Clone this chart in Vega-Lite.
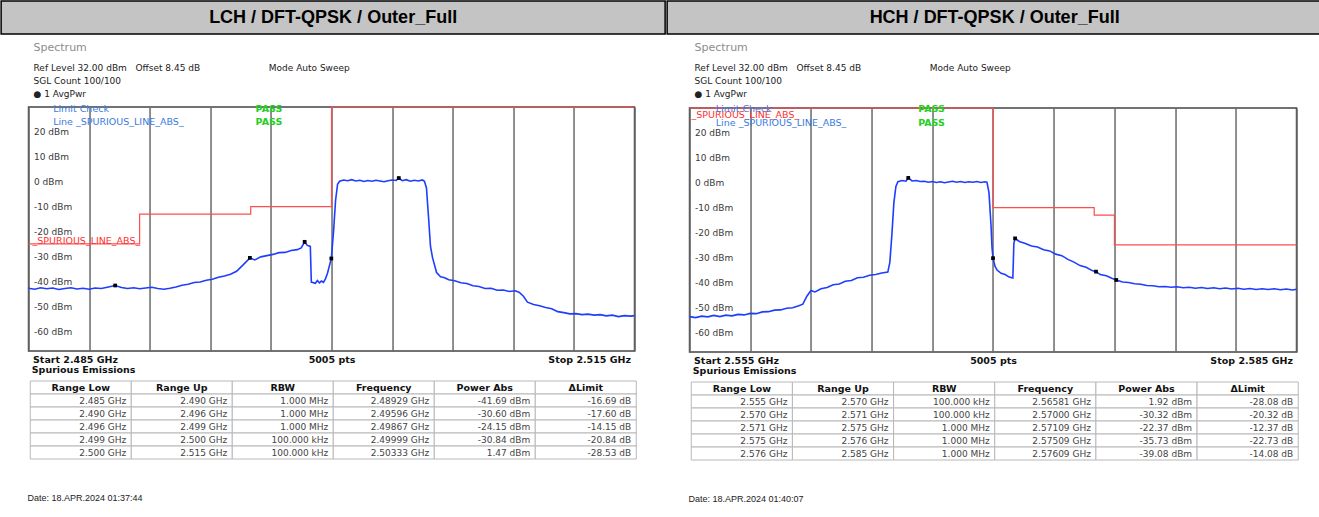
{
 "$schema": "https://vega.github.io/schema/vega-lite/v6.json",
 "padding": 0,
 "background": "white",
 "spacing": 0,
 "config": {"view": {"stroke": null}, "font": "DejaVu Sans"},
 "datasets": {
  "levels": [{"dbm": 20},{"dbm": 10},{"dbm": 0},{"dbm": -10},{"dbm": -20},{"dbm": -30},{"dbm": -40},{"dbm": -50},{"dbm": -60}],
  "lch_trace": [
   {"freq":2.4850,"dbm":-42.8},{"freq":2.4853,"dbm":-43.2},{"freq":2.4856,"dbm":-42.6},{"freq":2.4859,"dbm":-43.0},{"freq":2.4862,"dbm":-42.7},{"freq":2.4865,"dbm":-43.3},{"freq":2.4868,"dbm":-42.9},{"freq":2.4871,"dbm":-42.6},{"freq":2.4874,"dbm":-43.1},{"freq":2.4877,"dbm":-42.8},{"freq":2.4880,"dbm":-43.2},{"freq":2.4883,"dbm":-42.7},{"freq":2.4886,"dbm":-42.9},{"freq":2.4889,"dbm":-42.4},{"freq":2.48929,"dbm":-41.69},{"freq":2.4896,"dbm":-42.5},{"freq":2.4899,"dbm":-42.9},{"freq":2.4902,"dbm":-42.6},{"freq":2.4905,"dbm":-43.0},{"freq":2.4908,"dbm":-42.7},{"freq":2.4911,"dbm":-42.4},{"freq":2.4914,"dbm":-42.9},{"freq":2.4917,"dbm":-43.2},{"freq":2.4920,"dbm":-42.8},{"freq":2.4923,"dbm":-42.3},{"freq":2.4926,"dbm":-41.6},{"freq":2.4929,"dbm":-41.2},{"freq":2.4932,"dbm":-40.5},{"freq":2.4935,"dbm":-40.3},{"freq":2.4938,"dbm":-39.6},{"freq":2.4941,"dbm":-39.2},{"freq":2.4944,"dbm":-38.4},{"freq":2.4947,"dbm":-37.9},{"freq":2.4950,"dbm":-37.2},{"freq":2.4953,"dbm":-36.0},{"freq":2.4956,"dbm":-33.6},{"freq":2.49596,"dbm":-30.6},{"freq":2.4962,"dbm":-31.4},{"freq":2.4965,"dbm":-30.2},{"freq":2.4968,"dbm":-29.7},{"freq":2.4971,"dbm":-29.2},{"freq":2.4974,"dbm":-28.5},{"freq":2.4977,"dbm":-28.4},{"freq":2.4980,"dbm":-27.6},{"freq":2.4983,"dbm":-27.3},{"freq":2.4985,"dbm":-26.6},{"freq":2.49867,"dbm":-24.15},{"freq":2.4988,"dbm":-25.6},{"freq":2.49895,"dbm":-26.0},{"freq":2.4990,"dbm":-40.3},{"freq":2.4992,"dbm":-40.8},{"freq":2.4993,"dbm":-39.7},{"freq":2.4994,"dbm":-40.6},{"freq":2.4995,"dbm":-39.9},{"freq":2.4996,"dbm":-40.4},{"freq":2.4997,"dbm":-39.0},{"freq":2.4998,"dbm":-36.8},{"freq":2.49999,"dbm":-30.84},{"freq":2.5001,"dbm":-20.0},{"freq":2.5002,"dbm":-7.5},{"freq":2.5003,"dbm":-1.0},{"freq":2.5004,"dbm":0.2},{"freq":2.5006,"dbm":0.7},{"freq":2.5008,"dbm":0.4},{"freq":2.5010,"dbm":0.8},{"freq":2.5012,"dbm":0.3},{"freq":2.5014,"dbm":0.6},{"freq":2.5016,"dbm":0.1},{"freq":2.5018,"dbm":0.5},{"freq":2.5020,"dbm":0.2},{"freq":2.5022,"dbm":0.6},{"freq":2.5024,"dbm":0.3},{"freq":2.5026,"dbm":0.0},{"freq":2.5028,"dbm":0.4},{"freq":2.5030,"dbm":0.7},{"freq":2.5032,"dbm":0.5},{"freq":2.50333,"dbm":1.47},{"freq":2.5035,"dbm":0.4},{"freq":2.5037,"dbm":0.8},{"freq":2.5039,"dbm":0.2},{"freq":2.5041,"dbm":0.6},{"freq":2.5043,"dbm":0.3},{"freq":2.5045,"dbm":0.7},{"freq":2.5046,"dbm":0.2},{"freq":2.5047,"dbm":-2.5},{"freq":2.5048,"dbm":-14.0},{"freq":2.5049,"dbm":-26.0},{"freq":2.5050,"dbm":-30.5},{"freq":2.5052,"dbm":-36.5},{"freq":2.5054,"dbm":-38.2},{"freq":2.5056,"dbm":-38.6},{"freq":2.5058,"dbm":-39.4},{"freq":2.5061,"dbm":-39.8},{"freq":2.5064,"dbm":-40.6},{"freq":2.5067,"dbm":-40.9},{"freq":2.5070,"dbm":-41.8},{"freq":2.5073,"dbm":-42.1},{"freq":2.5076,"dbm":-42.9},{"freq":2.5079,"dbm":-42.8},{"freq":2.5082,"dbm":-43.6},{"freq":2.5085,"dbm":-43.5},{"freq":2.5088,"dbm":-44.1},{"freq":2.5091,"dbm":-43.8},{"freq":2.5093,"dbm":-44.5},{"freq":2.5095,"dbm":-46.0},{"freq":2.5097,"dbm":-48.4},{"freq":2.5100,"dbm":-49.3},{"freq":2.5103,"dbm":-49.8},{"freq":2.5106,"dbm":-50.5},{"freq":2.5109,"dbm":-51.0},{"freq":2.5112,"dbm":-52.2},{"freq":2.5115,"dbm":-52.6},{"freq":2.5118,"dbm":-53.1},{"freq":2.5121,"dbm":-53.0},{"freq":2.5124,"dbm":-53.4},{"freq":2.5127,"dbm":-53.2},{"freq":2.5130,"dbm":-53.6},{"freq":2.5133,"dbm":-53.4},{"freq":2.5136,"dbm":-53.9},{"freq":2.5139,"dbm":-53.6},{"freq":2.5142,"dbm":-54.2},{"freq":2.5145,"dbm":-53.8},{"freq":2.5148,"dbm":-54.0},{"freq":2.5150,"dbm":-53.8}
  ],
  "hch_trace": [
   {"freq":2.5550,"dbm":-53.8},{"freq":2.5553,"dbm":-54.2},{"freq":2.5556,"dbm":-53.6},{"freq":2.5559,"dbm":-53.9},{"freq":2.5562,"dbm":-53.3},{"freq":2.5565,"dbm":-53.8},{"freq":2.5568,"dbm":-53.2},{"freq":2.5571,"dbm":-53.5},{"freq":2.5574,"dbm":-52.9},{"freq":2.5577,"dbm":-53.1},{"freq":2.5580,"dbm":-52.5},{"freq":2.5583,"dbm":-52.6},{"freq":2.5586,"dbm":-51.9},{"freq":2.5589,"dbm":-51.8},{"freq":2.5592,"dbm":-51.2},{"freq":2.5595,"dbm":-51.1},{"freq":2.5598,"dbm":-50.4},{"freq":2.5601,"dbm":-50.2},{"freq":2.5604,"dbm":-49.4},{"freq":2.5606,"dbm":-48.8},{"freq":2.5608,"dbm":-45.6},{"freq":2.5610,"dbm":-43.3},{"freq":2.5612,"dbm":-43.9},{"freq":2.5615,"dbm":-42.6},{"freq":2.5618,"dbm":-42.1},{"freq":2.5621,"dbm":-41.0},{"freq":2.5624,"dbm":-40.7},{"freq":2.5627,"dbm":-39.6},{"freq":2.5630,"dbm":-39.3},{"freq":2.5633,"dbm":-38.2},{"freq":2.5636,"dbm":-38.0},{"freq":2.5639,"dbm":-37.2},{"freq":2.5642,"dbm":-36.9},{"freq":2.5645,"dbm":-36.3},{"freq":2.5648,"dbm":-35.9},{"freq":2.5649,"dbm":-32.0},{"freq":2.5650,"dbm":-21.0},{"freq":2.5651,"dbm":-8.0},{"freq":2.5652,"dbm":-1.5},{"freq":2.5653,"dbm":0.4},{"freq":2.5655,"dbm":0.9},{"freq":2.5657,"dbm":0.6},{"freq":2.56581,"dbm":1.92},{"freq":2.5660,"dbm":0.7},{"freq":2.5662,"dbm":0.9},{"freq":2.5664,"dbm":0.5},{"freq":2.5666,"dbm":0.6},{"freq":2.5668,"dbm":0.2},{"freq":2.5670,"dbm":0.5},{"freq":2.5672,"dbm":0.1},{"freq":2.5674,"dbm":0.4},{"freq":2.5676,"dbm":0.0},{"freq":2.5678,"dbm":0.3},{"freq":2.5680,"dbm":0.6},{"freq":2.5682,"dbm":0.2},{"freq":2.5684,"dbm":0.5},{"freq":2.5686,"dbm":0.1},{"freq":2.5688,"dbm":0.4},{"freq":2.5690,"dbm":0.2},{"freq":2.5692,"dbm":0.5},{"freq":2.5694,"dbm":0.1},{"freq":2.5696,"dbm":0.4},{"freq":2.5697,"dbm":0.2},{"freq":2.5698,"dbm":-4.0},{"freq":2.5699,"dbm":-17.0},{"freq":2.56995,"dbm":-26.0},{"freq":2.5700,"dbm":-30.32},{"freq":2.5701,"dbm":-33.6},{"freq":2.5702,"dbm":-35.1},{"freq":2.5704,"dbm":-36.4},{"freq":2.5706,"dbm":-36.9},{"freq":2.5708,"dbm":-37.9},{"freq":2.57098,"dbm":-38.3},{"freq":2.57103,"dbm":-24.5},{"freq":2.57109,"dbm":-22.37},{"freq":2.5713,"dbm":-23.6},{"freq":2.5716,"dbm":-24.4},{"freq":2.5719,"dbm":-25.4},{"freq":2.5722,"dbm":-25.8},{"freq":2.5725,"dbm":-26.9},{"freq":2.5728,"dbm":-27.4},{"freq":2.5731,"dbm":-28.7},{"freq":2.5734,"dbm":-29.3},{"freq":2.5737,"dbm":-30.8},{"freq":2.5740,"dbm":-31.9},{"freq":2.5743,"dbm":-33.3},{"freq":2.5746,"dbm":-34.0},{"freq":2.5749,"dbm":-35.3},{"freq":2.57509,"dbm":-35.73},{"freq":2.5753,"dbm":-36.9},{"freq":2.5756,"dbm":-37.4},{"freq":2.5759,"dbm":-38.5},{"freq":2.57609,"dbm":-39.08},{"freq":2.5764,"dbm":-39.9},{"freq":2.5767,"dbm":-40.1},{"freq":2.5770,"dbm":-40.6},{"freq":2.5773,"dbm":-40.8},{"freq":2.5776,"dbm":-41.3},{"freq":2.5779,"dbm":-41.4},{"freq":2.5782,"dbm":-41.8},{"freq":2.5785,"dbm":-41.7},{"freq":2.5788,"dbm":-42.0},{"freq":2.5791,"dbm":-41.8},{"freq":2.5794,"dbm":-42.2},{"freq":2.5797,"dbm":-42.0},{"freq":2.5800,"dbm":-42.4},{"freq":2.5803,"dbm":-42.1},{"freq":2.5806,"dbm":-42.5},{"freq":2.5809,"dbm":-42.2},{"freq":2.5812,"dbm":-42.6},{"freq":2.5815,"dbm":-42.3},{"freq":2.5818,"dbm":-42.7},{"freq":2.5821,"dbm":-42.4},{"freq":2.5824,"dbm":-42.8},{"freq":2.5827,"dbm":-42.5},{"freq":2.5830,"dbm":-42.9},{"freq":2.5833,"dbm":-42.6},{"freq":2.5836,"dbm":-42.9},{"freq":2.5839,"dbm":-42.6},{"freq":2.5842,"dbm":-43.0},{"freq":2.5845,"dbm":-42.7},{"freq":2.5848,"dbm":-43.1},{"freq":2.5850,"dbm":-42.8}
  ],
  "lch_markers": [{"freq":2.48929,"dbm":-41.69},{"freq":2.49596,"dbm":-30.60},{"freq":2.49867,"dbm":-24.15},{"freq":2.49999,"dbm":-30.84},{"freq":2.50333,"dbm":1.47}],
  "hch_markers": [{"freq":2.56581,"dbm":1.92},{"freq":2.57000,"dbm":-30.32},{"freq":2.57109,"dbm":-22.37},{"freq":2.57509,"dbm":-35.73},{"freq":2.57609,"dbm":-39.08}],
  "lch_limit": [{"freq":2.485,"dbm":-25},{"freq":2.4905,"dbm":-13},{"freq":2.496,"dbm":-10},{"freq":2.5,"dbm":30},{"freq":2.515,"dbm":30}],
  "hch_limit": [{"freq":2.555,"dbm":30},{"freq":2.570,"dbm":-10},{"freq":2.575,"dbm":-13},{"freq":2.576,"dbm":-25},{"freq":2.585,"dbm":-25}],
  "lch_blue": [{"freq":2.48622,"dbm":29.2,"label":"Limit Check"},{"freq":2.48622,"dbm":23.9,"label":"Line _SPURIOUS_LINE_ABS_"}],
  "lch_green": [{"freq":2.49624,"dbm":29.2,"label":"PASS"},{"freq":2.49624,"dbm":23.9,"label":"PASS"}],
  "lch_red": [{"freq":2.4852,"dbm":-23.9,"label":"_SPURIOUS_LINE_ABS_"}],
  "hch_blue": [{"freq":2.5563,"dbm":29.4,"label":"Limit Check"},{"freq":2.5563,"dbm":23.9,"label":"Line _SPURIOUS_LINE_ABS_"}],
  "hch_green": [{"freq":2.5663,"dbm":29.4,"label":"PASS"},{"freq":2.5663,"dbm":23.9,"label":"PASS"}],
  "hch_red": [{"freq":2.5551,"dbm":27.2,"label":"_SPURIOUS_LINE_ABS_"}],
  "lch_table": [
   {"i":0,"Range Low":"Range Low","Range Up":"Range Up","RBW":"RBW","Frequency":"Frequency","Power Abs":"Power Abs","ΔLimit":"ΔLimit"},
   {"i":1,"Range Low":"2.485 GHz","Range Up":"2.490 GHz","RBW":"1.000 MHz","Frequency":"2.48929 GHz","Power Abs":"-41.69 dBm","ΔLimit":"-16.69 dB"},
   {"i":2,"Range Low":"2.490 GHz","Range Up":"2.496 GHz","RBW":"1.000 MHz","Frequency":"2.49596 GHz","Power Abs":"-30.60 dBm","ΔLimit":"-17.60 dB"},
   {"i":3,"Range Low":"2.496 GHz","Range Up":"2.499 GHz","RBW":"1.000 MHz","Frequency":"2.49867 GHz","Power Abs":"-24.15 dBm","ΔLimit":"-14.15 dB"},
   {"i":4,"Range Low":"2.499 GHz","Range Up":"2.500 GHz","RBW":"100.000 kHz","Frequency":"2.49999 GHz","Power Abs":"-30.84 dBm","ΔLimit":"-20.84 dB"},
   {"i":5,"Range Low":"2.500 GHz","Range Up":"2.515 GHz","RBW":"100.000 kHz","Frequency":"2.50333 GHz","Power Abs":"1.47 dBm","ΔLimit":"-28.53 dB"}
  ],
  "hch_table": [
   {"i":0,"Range Low":"Range Low","Range Up":"Range Up","RBW":"RBW","Frequency":"Frequency","Power Abs":"Power Abs","ΔLimit":"ΔLimit"},
   {"i":1,"Range Low":"2.555 GHz","Range Up":"2.570 GHz","RBW":"100.000 kHz","Frequency":"2.56581 GHz","Power Abs":"1.92 dBm","ΔLimit":"-28.08 dB"},
   {"i":2,"Range Low":"2.570 GHz","Range Up":"2.571 GHz","RBW":"100.000 kHz","Frequency":"2.57000 GHz","Power Abs":"-30.32 dBm","ΔLimit":"-20.32 dB"},
   {"i":3,"Range Low":"2.571 GHz","Range Up":"2.575 GHz","RBW":"1.000 MHz","Frequency":"2.57109 GHz","Power Abs":"-22.37 dBm","ΔLimit":"-12.37 dB"},
   {"i":4,"Range Low":"2.575 GHz","Range Up":"2.576 GHz","RBW":"1.000 MHz","Frequency":"2.57509 GHz","Power Abs":"-35.73 dBm","ΔLimit":"-22.73 dB"},
   {"i":5,"Range Low":"2.576 GHz","Range Up":"2.585 GHz","RBW":"1.000 MHz","Frequency":"2.57609 GHz","Power Abs":"-39.08 dBm","ΔLimit":"-14.08 dB"}
  ]
 },
 "hconcat": [
  {
   "center": true, "spacing": 0,
   "vconcat": [
    {"width": 664, "height": 33, "view": {"fill": "#c4c4c4", "stroke": "#000", "strokeWidth": 1.5},
     "data": {"values": [{"t": "LCH / DFT-QPSK / Outer_Full"}]},
     "mark": {"type": "text", "font": "Liberation Sans", "fontWeight": "bold", "fontSize": 18, "color": "#000"},
     "encoding": {"text": {"field": "t"}}},
    {"width": 606, "height": 244,
     "view": {"stroke": "#444", "strokeWidth": 1.5},
     "title": {"text": ["", "Spectrum"], "lineHeight": 6, "anchor": "start", "frame": "group", "dx": 5, "font": "DejaVu Sans", "fontSize": 11, "fontWeight": "normal", "color": "#8c8c8c",
       "subtitle": ["Ref Level 32.00 dBm\u00a0\u00a0\u00a0Offset 8.45 dB\u00a0\u00a0\u00a0\u00a0\u00a0\u00a0\u00a0\u00a0\u00a0\u00a0\u00a0\u00a0\u00a0\u00a0\u00a0\u00a0\u00a0\u00a0\u00a0\u00a0\u00a0\u00a0\u00a0\u00a0Mode Auto Sweep", "SGL Count 100/100", "● 1 AvgPwr"],
       "subtitleFont": "DejaVu Sans", "subtitleFontSize": 9, "subtitleColor": "#222", "subtitleLineHeight": 13, "subtitlePadding": 11, "offset": 5},
     "encoding": {
      "x": {"field": "freq", "type": "quantitative", "scale": {"domain": [2.485, 2.515], "nice": false, "zero": false},
        "axis": {"title": null, "values": [2.485,2.488,2.491,2.494,2.497,2.5,2.503,2.506,2.509,2.512,2.515], "grid": true, "gridColor": "#6a6a6a", "gridWidth": 1.5, "ticks": false, "tickSize": 0, "domain": false,
          "labelExpr": "abs(datum.value-2.485)<0.0001 ? 'Start 2.485 GHz' : abs(datum.value-2.5)<0.0001 ? '5005 pts' : abs(datum.value-2.515)<0.0001 ? 'Stop 2.515 GHz' : ''",
          "labelFlush": true, "labelFlushOffset": -4, "labelOverlap": false, "labelFont": "DejaVu Sans", "labelFontWeight": "bold", "labelFontSize": 9.5, "labelColor": "#111", "labelPadding": 3}},
      "y": {"field": "dbm", "type": "quantitative", "scale": {"domain": [-68, 30], "nice": false, "zero": false},
        "axis": {"title": null, "values": [20,10,0,-10,-20,-30,-40,-50,-60], "labelExpr": "datum.value + ' dBm'", "labelAlign": "left", "labelPadding": -5, "tickSize": 0, "ticks": false, "domain": false, "grid": false, "labelFont": "DejaVu Sans", "labelFontSize": 9, "labelColor": "#3a3a3a", "labelBaseline": "middle"}}
     },
     "layer": [
      {"data": {"name": "levels"}, "mark": {"type": "rule", "color": "#6a6a6a", "strokeWidth": 1.5},
       "encoding": {"x": {"datum": 2.487}, "x2": {"datum": 2.515}}},
      {"data": {"name": "lch_limit"}, "mark": {"type": "line", "interpolate": "step-after", "color": "#ff4d4d", "strokeWidth": 1.2}},
      {"data": {"name": "lch_trace"}, "mark": {"type": "line", "color": "#1f3dff", "strokeWidth": 1.6}},
      {"data": {"name": "lch_markers"}, "mark": {"type": "point", "shape": "square", "filled": true, "color": "#000", "size": 14, "opacity": 1}},
      {"data": {"name": "lch_blue"}, "mark": {"type": "text", "align": "left", "color": "#3a7be0", "fontSize": 9.5, "font": "DejaVu Sans"}, "encoding": {"text": {"field": "label", "type": "nominal"}}},
      {"data": {"name": "lch_green"}, "mark": {"type": "text", "align": "left", "color": "#22d022", "fontSize": 9.5, "fontWeight": "bold", "font": "DejaVu Sans"}, "encoding": {"text": {"field": "label", "type": "nominal"}}},
      {"data": {"name": "lch_red"}, "mark": {"type": "text", "align": "left", "color": "#ff3030", "fontSize": 9.5, "font": "DejaVu Sans"}, "encoding": {"text": {"field": "label", "type": "nominal"}}}
     ]
    },
    {"width": 606, "height": 78,
     "title": {"text": "Spurious Emissions", "anchor": "start", "font": "DejaVu Sans", "fontSize": 9.5, "fontWeight": "bold", "color": "#111", "offset": 6, "dx": 2},
     "data": {"name": "lch_table"},
     "transform": [{"fold": ["Range Low","Range Up","RBW","Frequency","Power Abs","ΔLimit"], "as": ["col","val"]}],
     "encoding": {
      "x": {"field": "col", "type": "nominal", "sort": ["Range Low","Range Up","RBW","Frequency","Power Abs","ΔLimit"], "axis": null, "scale": {"paddingInner": 0, "paddingOuter": 0}},
      "y": {"field": "i", "type": "ordinal", "axis": null, "scale": {"paddingInner": 0, "paddingOuter": 0}}
     },
     "layer": [
      {"mark": {"type": "rect", "fill": "#ffffff", "stroke": "#b8b8b8", "strokeWidth": 1}},
      {"transform": [{"filter": "datum.i == 0"}], "mark": {"type": "text", "fontWeight": "bold", "font": "DejaVu Sans", "fontSize": 9.5, "color": "#111"}, "encoding": {"text": {"field": "val"}}},
      {"transform": [{"filter": "datum.i > 0"}], "mark": {"type": "text", "align": "right", "dx": -5, "font": "DejaVu Sans", "fontSize": 9, "color": "#444"},
       "encoding": {"x": {"field": "col", "type": "nominal", "sort": ["Range Low","Range Up","RBW","Frequency","Power Abs","ΔLimit"], "bandPosition": 1}, "text": {"field": "val"}}}
     ]
    },
    {"width": 606, "height": 28, "data": {"values": [{}]}, "mark": {"type": "point", "opacity": 0},
     "title": {"text": "Date: 18.APR.2024  01:37:44", "orient": "bottom", "anchor": "start", "font": "Liberation Sans", "fontSize": 9, "fontWeight": "normal", "color": "#222", "offset": 6, "dx": -3}}
   ]
  },
  {
   "center": true, "spacing": 0,
   "vconcat": [
    {"width": 655, "height": 33, "view": {"fill": "#c4c4c4", "stroke": "#000", "strokeWidth": 1.5},
     "data": {"values": [{"t": "HCH / DFT-QPSK / Outer_Full"}]},
     "mark": {"type": "text", "font": "Liberation Sans", "fontWeight": "bold", "fontSize": 18, "color": "#000"},
     "encoding": {"text": {"field": "t"}}},
    {"width": 607, "height": 244,
     "view": {"stroke": "#444", "strokeWidth": 1.5},
     "title": {"text": ["", "Spectrum"], "lineHeight": 6, "anchor": "start", "frame": "group", "dx": 5, "font": "DejaVu Sans", "fontSize": 11, "fontWeight": "normal", "color": "#8c8c8c",
       "subtitle": ["Ref Level 32.00 dBm\u00a0\u00a0\u00a0Offset 8.45 dB\u00a0\u00a0\u00a0\u00a0\u00a0\u00a0\u00a0\u00a0\u00a0\u00a0\u00a0\u00a0\u00a0\u00a0\u00a0\u00a0\u00a0\u00a0\u00a0\u00a0\u00a0\u00a0\u00a0\u00a0Mode Auto Sweep", "SGL Count 100/100", "● 1 AvgPwr"],
       "subtitleFont": "DejaVu Sans", "subtitleFontSize": 9, "subtitleColor": "#222", "subtitleLineHeight": 13, "subtitlePadding": 11, "offset": 5},
     "encoding": {
      "x": {"field": "freq", "type": "quantitative", "scale": {"domain": [2.555, 2.585], "nice": false, "zero": false},
        "axis": {"title": null, "values": [2.555,2.558,2.561,2.564,2.567,2.57,2.573,2.576,2.579,2.582,2.585], "grid": true, "gridColor": "#6a6a6a", "gridWidth": 1.5, "ticks": false, "tickSize": 0, "domain": false,
          "labelExpr": "abs(datum.value-2.555)<0.0001 ? 'Start 2.555 GHz' : abs(datum.value-2.57)<0.0001 ? '5005 pts' : abs(datum.value-2.585)<0.0001 ? 'Stop 2.585 GHz' : ''",
          "labelFlush": true, "labelFlushOffset": -4, "labelOverlap": false, "labelFont": "DejaVu Sans", "labelFontWeight": "bold", "labelFontSize": 9.5, "labelColor": "#111", "labelPadding": 3}},
      "y": {"field": "dbm", "type": "quantitative", "scale": {"domain": [-68, 30], "nice": false, "zero": false},
        "axis": {"title": null, "values": [20,10,0,-10,-20,-30,-40,-50,-60], "labelExpr": "datum.value + ' dBm'", "labelAlign": "left", "labelPadding": -5, "tickSize": 0, "ticks": false, "domain": false, "grid": false, "labelFont": "DejaVu Sans", "labelFontSize": 9, "labelColor": "#3a3a3a", "labelBaseline": "middle"}}
     },
     "layer": [
      {"data": {"name": "levels"}, "mark": {"type": "rule", "color": "#6a6a6a", "strokeWidth": 1.5},
       "encoding": {"x": {"datum": 2.557}, "x2": {"datum": 2.585}}},
      {"data": {"name": "hch_limit"}, "mark": {"type": "line", "interpolate": "step-after", "color": "#ff4d4d", "strokeWidth": 1.2}},
      {"data": {"name": "hch_trace"}, "mark": {"type": "line", "color": "#1f3dff", "strokeWidth": 1.6}},
      {"data": {"name": "hch_markers"}, "mark": {"type": "point", "shape": "square", "filled": true, "color": "#000", "size": 14, "opacity": 1}},
      {"data": {"name": "hch_red"}, "mark": {"type": "text", "align": "left", "color": "#ff3030", "fontSize": 9.5, "font": "DejaVu Sans"}, "encoding": {"text": {"field": "label", "type": "nominal"}}},
      {"data": {"name": "hch_blue"}, "mark": {"type": "text", "align": "left", "color": "#3a7be0", "fontSize": 9.5, "font": "DejaVu Sans"}, "encoding": {"text": {"field": "label", "type": "nominal"}}},
      {"data": {"name": "hch_green"}, "mark": {"type": "text", "align": "left", "color": "#22d022", "fontSize": 9.5, "fontWeight": "bold", "font": "DejaVu Sans"}, "encoding": {"text": {"field": "label", "type": "nominal"}}}
     ]
    },
    {"width": 607, "height": 78,
     "title": {"text": "Spurious Emissions", "anchor": "start", "font": "DejaVu Sans", "fontSize": 9.5, "fontWeight": "bold", "color": "#111", "offset": 6, "dx": 2},
     "data": {"name": "hch_table"},
     "transform": [{"fold": ["Range Low","Range Up","RBW","Frequency","Power Abs","ΔLimit"], "as": ["col","val"]}],
     "encoding": {
      "x": {"field": "col", "type": "nominal", "sort": ["Range Low","Range Up","RBW","Frequency","Power Abs","ΔLimit"], "axis": null, "scale": {"paddingInner": 0, "paddingOuter": 0}},
      "y": {"field": "i", "type": "ordinal", "axis": null, "scale": {"paddingInner": 0, "paddingOuter": 0}}
     },
     "layer": [
      {"mark": {"type": "rect", "fill": "#ffffff", "stroke": "#b8b8b8", "strokeWidth": 1}},
      {"transform": [{"filter": "datum.i == 0"}], "mark": {"type": "text", "fontWeight": "bold", "font": "DejaVu Sans", "fontSize": 9.5, "color": "#111"}, "encoding": {"text": {"field": "val"}}},
      {"transform": [{"filter": "datum.i > 0"}], "mark": {"type": "text", "align": "right", "dx": -5, "font": "DejaVu Sans", "fontSize": 9, "color": "#444"},
       "encoding": {"x": {"field": "col", "type": "nominal", "sort": ["Range Low","Range Up","RBW","Frequency","Power Abs","ΔLimit"], "bandPosition": 1}, "text": {"field": "val"}}}
     ]
    },
    {"width": 607, "height": 28, "data": {"values": [{}]}, "mark": {"type": "point", "opacity": 0},
     "title": {"text": "Date: 18.APR.2024  01:40:07", "orient": "bottom", "anchor": "start", "font": "Liberation Sans", "fontSize": 9, "fontWeight": "normal", "color": "#222", "offset": 6, "dx": -3}}
   ]
  }
 ]
}
